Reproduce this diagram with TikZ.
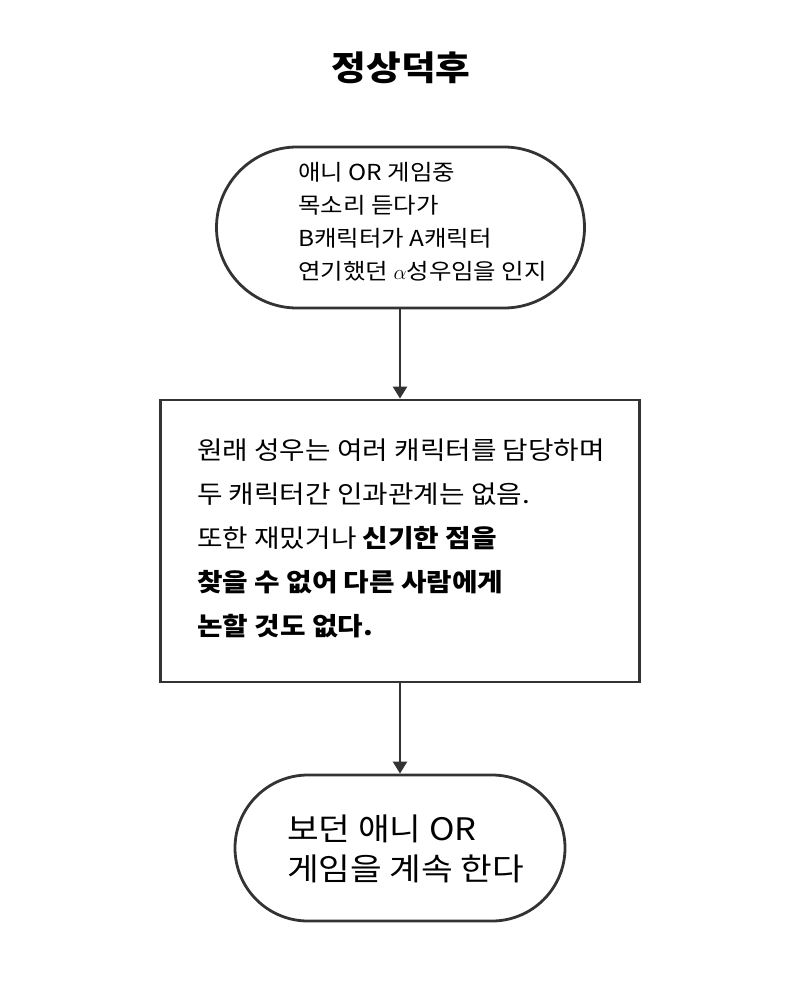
\documentclass[tikz,border=0pt]{standalone}
\usepackage{fontspec}
\setmainfont{Noto Sans CJK KR}[FakeStretch=1.11]
\usetikzlibrary{arrows.meta,shapes.misc}
\definecolor{ink}{HTML}{333333}
\tikzset{
  frame/.style={draw=ink, line width=2.8pt, fill=white, inner sep=0pt},
  term/.style={frame, rounded rectangle},
  proc/.style={frame, rectangle},
  txt/.style={anchor=west, inner sep=0pt, align=left, text=black},
  conn/.style={draw=ink, line width=2.5pt, -{Triangle[length=12pt,width=14pt]}}
}
\begin{document}
\begin{tikzpicture}[x=1pt,y=-1pt]
\useasboundingbox (0,0) rectangle (800,1008);
\node[inner sep=0pt, font=\fontsize{34}{40}\selectfont\bfseries] (title) at (401,68) {정상덕후};
\node[term, minimum width=368pt, minimum height=161pt] (start) at (400.5,227.5) {};
\node[txt, font=\fontsize{22}{33}\selectfont] (starttxt) at (298,222) {애니 OR 게임중\\목소리 듣다가\\B캐릭터가 A캐릭터\\연기했던 $\alpha$성우임을 인지};
\node[proc, minimum width=479pt, minimum height=282pt] (mid) at (400,541) {};
\node[txt, font=\fontsize{25}{44}\selectfont] (midtxt) at (197,538) {원래 성우는 여러 캐릭터를 담당하며\\두 캐릭터간 인과관계는 없음.\\또한 재밌거나 \textbf{신기한 점을}\\\textbf{찾을 수 없어 다른 사람에게}\\\textbf{논할 것도 없다.}};
\node[term, minimum width=330pt, minimum height=146pt] (end) at (400,848) {};
\node[txt, font=\fontsize{31}{40}\selectfont] (endtxt) at (287,849) {보던 애니 OR\\게임을 계속 한다};
\draw[conn] (start.south -| mid.north) -- (mid.north);
\draw[conn] (mid.south) -- (end.north);
\end{tikzpicture}
\end{document}
